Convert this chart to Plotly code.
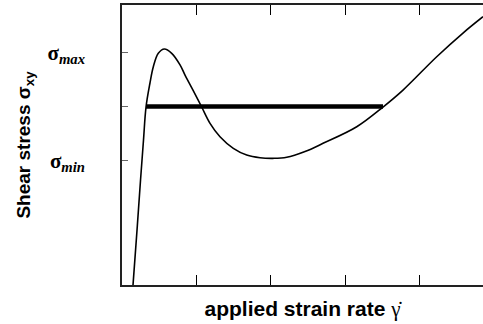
import plotly.graph_objects as go

# Flow curve: applied strain rate vs shear stress (arbitrary units)
strain_rate = [0.148, 0.202, 0.249, 0.289, 0.323, 0.376, 0.421, 0.488, 0.569, 0.668,
               0.780, 0.847, 0.954, 1.071, 1.183, 1.317, 1.496, 1.676, 1.855, 2.034,
               2.214, 2.460, 2.702, 3.155, 3.508, 3.777, 4.230, 4.583, 4.852]
shear_stress = [-1.293, -0.279, 0.644, 1.382, 1.991, 2.434, 2.734, 2.982, 3.061, 2.982,
                2.769, 2.581, 2.304, 1.991, 1.690, 1.443, 1.229, 1.105, 1.055, 1.044,
                1.063, 1.170, 1.321, 1.627, 1.991, 2.304, 2.919, 3.356, 3.657]

plateau_x = [0.323, 3.508]
plateau_y = [2.0, 2.0]

y_tickvals = [1, 2, 3]
y_ticktext = ["σ<sub><i>min</i></sub>", "", "σ<sub><i>max</i></sub>"]
x_tickvals = [0, 1, 2, 3, 4]

fig = go.Figure()
fig.add_trace(go.Scatter(x=strain_rate, y=shear_stress, mode="lines",
                         line=dict(color="black", width=1.6, shape="spline", smoothing=1.0),
                         hoverinfo="skip", showlegend=False))
fig.add_trace(go.Scatter(x=plateau_x, y=plateau_y, mode="lines",
                         line=dict(color="black", width=4.5),
                         hoverinfo="skip", showlegend=False))

fig.update_layout(
    width=483, height=324,
    margin=dict(l=122, r=0, t=5, b=39),
    paper_bgcolor="white", plot_bgcolor="white",
    font=dict(family="Liberation Sans", color="black"),
    xaxis=dict(range=[0, 4.852], tickvals=x_tickvals, showticklabels=False,
               ticks="inside", ticklen=10, tickwidth=1.2, tickcolor="black",
               showline=True, linecolor="#222", linewidth=1.5, mirror="ticks",
               showgrid=False, zeroline=False, automargin=False,
               title=dict(text="<b>applied strain rate </b><span style='font-family:Liberation Serif'>γ̇</span>",
                          font=dict(size=21, family="Liberation Sans"), standoff=16)),
    yaxis=dict(range=[-1.293, 3.873], tickvals=y_tickvals, ticktext=y_ticktext,
               ticks="inside", ticklen=6, tickwidth=1.2, tickcolor="#666",
               tickfont=dict(family="Liberation Serif", size=21, weight="bold"),
               ticklabelstandoff=31,
               showline=True, linecolor="#222", linewidth=1.5, mirror=False,
               showgrid=False, zeroline=False, automargin=False,
               title=dict(text="<b>Shear stress σ<sub>xy</sub></b>",
                          font=dict(size=19, family="Liberation Sans"), standoff=12)),
)

fig.write_html("out.html",
               config={"displayModeBar": False},
               post_script="document.body.style.margin='0';document.body.style.overflow='hidden';")
